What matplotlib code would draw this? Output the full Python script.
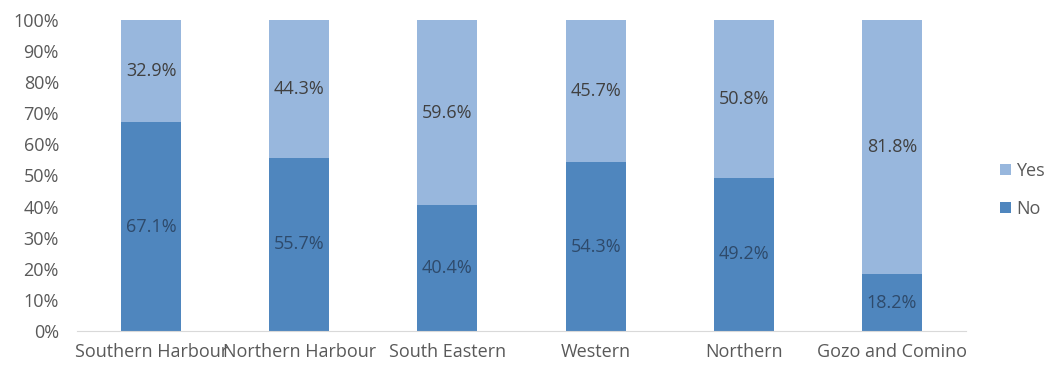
import matplotlib.pyplot as plt
from matplotlib.ticker import PercentFormatter
import numpy as np

plt.rcParams['font.family'] = ['Open Sans', 'DejaVu Sans']

regions = ['Southern Harbour', 'Northern Harbour', 'South Eastern', 'Western', 'Northern', 'Gozo and Comino']
no_vals = [67.1, 55.7, 40.4, 54.3, 49.2, 18.2]
yes_vals = [32.9, 44.3, 59.6, 45.7, 50.8, 81.8]

col_no = '#4F86BE'
col_yes = '#98B7DD'
txt = '#404040'
fs = 13

fig = plt.figure(figsize=(10.49, 3.69), dpi=100)
ax = fig.add_axes([0.0734, 0.103, 0.8476, 0.843])

x = np.arange(len(regions))
w = 0.405
b_no = ax.bar(x, no_vals, w, color=col_no, label='No')
b_yes = ax.bar(x, yes_vals, w, bottom=no_vals, color=col_yes, label='Yes')

for i in range(len(regions)):
    ax.text(x[i], no_vals[i] / 2, f'{no_vals[i]:.1f}%', ha='center', va='center',
            fontsize=fs, color='#2E4A6B')
    ax.text(x[i], no_vals[i] + yes_vals[i] / 2, f'{yes_vals[i]:.1f}%', ha='center', va='center',
            fontsize=fs, color=txt)

ax.set_ylim(0, 100)
ax.set_xlim(-0.5, len(regions) - 0.5)
ax.set_yticks(range(0, 101, 10))
ax.yaxis.set_major_formatter(PercentFormatter(decimals=0))
ax.set_xticks(x)
ax.set_xticklabels(regions)
ax.tick_params(axis='both', length=0, labelsize=fs, colors='#595959')
ax.tick_params(axis='y', pad=13)
ax.tick_params(axis='x', pad=9)
for s in ['top', 'right', 'left']:
    ax.spines[s].set_visible(False)
ax.spines['bottom'].set_color('#D9D9D9')

handles = [b_yes, b_no]
fig.legend(handles, ['Yes', 'No'], loc='center left', bbox_to_anchor=(0.953, 0.485),
           frameon=False, fontsize=fs, handlelength=0.6, handleheight=0.6,
           handletextpad=0.3, labelspacing=1.1, labelcolor='#595959',
           borderaxespad=0, borderpad=0)

fig.savefig('out.png', dpi=100)
